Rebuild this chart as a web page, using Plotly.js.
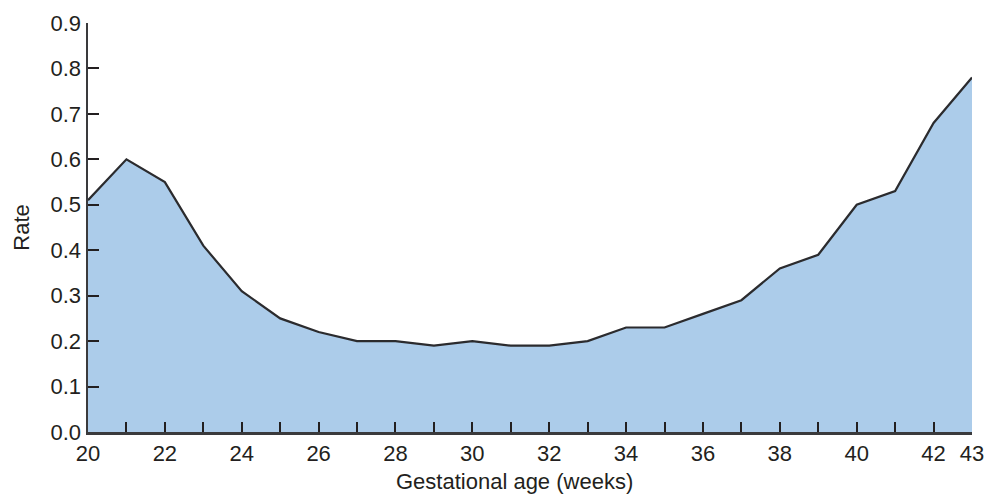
<!DOCTYPE html>
<html>
<head>
<meta charset="utf-8">
<script src="https://cdn.plot.ly/plotly-3.0.1.min.js"></script>
<style>html,body{margin:0;padding:0;background:#fff;}#chart{width:996px;height:495px;}</style>
</head>
<body>
<div id="chart"></div>
<script>
const weeks = [20,21,22,23,24,25,26,27,28,29,30,31,32,33,34,35,36,37,38,39,40,41,42,43];
const rate  = [0.51,0.60,0.55,0.41,0.31,0.25,0.22,0.20,0.20,0.19,0.20,0.19,0.19,0.20,0.23,0.23,0.26,0.29,0.36,0.39,0.50,0.53,0.68,0.78];
const xTickVals = [20,21,22,23,24,25,26,27,28,29,30,31,32,33,34,35,36,37,38,39,40,41,42,43];
const xTickText = ['20','','22','','24','','26','','28','','30','','32','','34','','36','','38','','40','','42','43'];
const xTitle = 'Gestational age (weeks)';
const yTitle = 'Rate';

const trace = {
  x: weeks, y: rate, type: 'scatter', mode: 'lines',
  fill: 'tozeroy', fillcolor: '#acccea',
  line: {color: '#2b2b2e', width: 2.2},
  hoverinfo: 'skip'
};
const font = {family: 'Liberation Sans, Arial, Helvetica, sans-serif', size: 22, color: '#231f20'};
const layout = {
  width: 996, height: 495,
  margin: {l: 88, r: 24, t: 23, b: 63},
  paper_bgcolor: '#fff', plot_bgcolor: '#fff',
  showlegend: false,
  font: font,
  xaxis: {
    range: [20, 43], tickmode: 'array', tickvals: xTickVals, ticktext: xTickText,
    ticks: 'inside', ticklen: 10, tickwidth: 2, tickcolor: '#231f20',
    showline: true, linecolor: '#3a3a3c', linewidth: 2.5,
    showgrid: false, zeroline: false,
    tickfont: font
  },
  yaxis: {
    range: [0, 0.9], dtick: 0.1, tick0: 0, tickformat: '.1f',
    ticks: 'inside', ticklen: 11, tickwidth: 2, tickcolor: '#231f20',
    showline: true, linecolor: '#3a3a3c', linewidth: 2.5,
    showgrid: false, zeroline: false,
    title: {text: yTitle, font: font, standoff: 15},
    tickfont: font
  },
  annotations: [{
    text: xTitle, xref: 'paper', yref: 'paper', x: 0.483, y: -0.122,
    xanchor: 'center', yanchor: 'middle', showarrow: false, font: font
  }]
};
Plotly.newPlot('chart', [trace], layout, {displayModeBar: false, staticPlot: true});
</script>
</body>
</html>
